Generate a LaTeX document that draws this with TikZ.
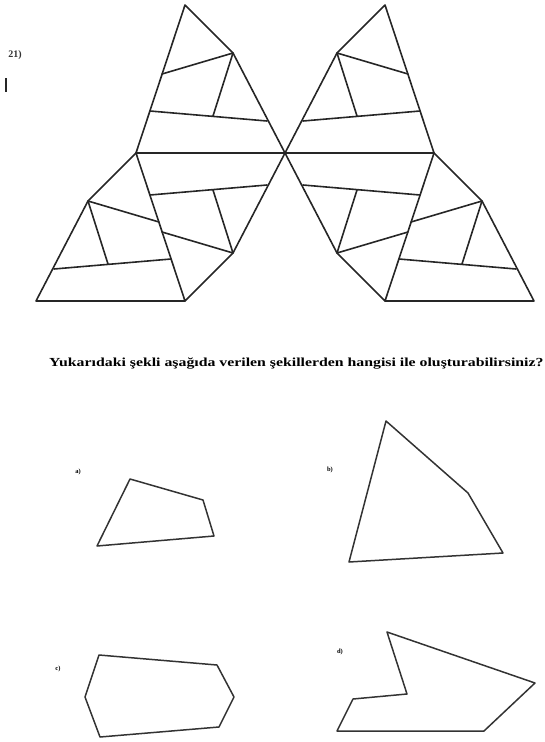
\documentclass[tikz,border=0pt]{standalone}
\usepackage{fontspec}
\setmainfont{Liberation Serif}
\begin{document}
\begin{tikzpicture}[x=1pt,y=-1pt,
  edge/.style={line width=1.6pt,line join=round,line cap=round,draw=black!85},
  opt/.style={line width=1.5pt,line join=round,draw=black!80},
  lbl/.style={font=\fontsize{6.5}{7}\selectfont\bfseries,inner sep=0pt}]
\useasboundingbox (0,0) rectangle (545,742);
\newcommand\halfpic[1]{%
  \coordinate (A#1) at (185,5);   \coordinate (B#1) at (233,53);
  \coordinate (C#1) at (285,153); \coordinate (D#1) at (136,153);
  \coordinate (P#1) at (162,74);  \coordinate (Q#1) at (213,116);
  \coordinate (R#1) at (150,111); \coordinate (S#1) at (267,121);
  \coordinate (Am#1) at (185,301); \coordinate (Bm#1) at (233,253);
  \coordinate (Pm#1) at (162,232); \coordinate (Qm#1) at (213,190);
  \coordinate (Rm#1) at (150,195); \coordinate (Sm#1) at (267,185);
  \coordinate (Bl#1) at (88,201);  \coordinate (Cl#1) at (36,301);
  \coordinate (Pl#1) at (159,222); \coordinate (Ql#1) at (108,264);
  \coordinate (Rl#1) at (171,259); \coordinate (Sl#1) at (54,269);
  % upper triangle
  \draw[edge] (A#1) -- (B#1) -- (C#1) -- (D#1) -- cycle;
  \draw[edge] (P#1) -- (B#1) -- (Q#1);
  \draw[edge] (R#1) -- (S#1);
  % middle piece
  \draw[edge] (C#1) -- (Bm#1) -- (Am#1) -- (D#1);
  \draw[edge] (Pm#1) -- (Bm#1) -- (Qm#1);
  \draw[edge] (Rm#1) -- (Sm#1);
  % lower triangle
  \draw[edge] (D#1) -- (Bl#1) -- (Cl#1) -- (Am#1);
  \draw[edge] (Pl#1) -- (Bl#1) -- (Ql#1);
  \draw[edge] (Rl#1) -- (Sl#1);
}
\halfpic{L}
\begin{scope}[xshift=570pt,xscale=-1]
\halfpic{R}
\end{scope}
% header
\node[font=\fontsize{10}{12}\selectfont\bfseries,inner sep=0pt,text=black!80] (num) at (15,55) {21)};
\coordinate (barT) at (6,78);
\coordinate (barB) at (6,92);
\draw[line width=2.6pt,black!85] (barT) -- (barB);
% question
\node[font=\fontsize{12.3}{14}\selectfont\bfseries,inner sep=0pt,anchor=west] (q) at (49,364)
  {\scalebox{1.285}[1]{Yukarıdaki şekli aşağıda verilen şekillerden hangisi ile oluşturabilirsiniz?}};
% option labels
\node[lbl] (la) at (78,472) {a)};
\node[lbl] (lb) at (330,470) {b)};
\node[lbl] (lc) at (58,669) {c)};
\node[lbl] (ld) at (340,652) {d)};
% option a
\coordinate (a1) at (130,479); \coordinate (a2) at (203,500);
\coordinate (a3) at (214,536); \coordinate (a4) at (97,546);
\draw[opt] (a1) -- (a2) -- (a3) -- (a4) -- cycle;
% option b
\coordinate (b1) at (386,421); \coordinate (b2) at (468,493);
\coordinate (b3) at (503,553); \coordinate (b4) at (349,562);
\draw[opt] (b1) -- (b2) -- (b3) -- (b4) -- cycle;
% option c
\coordinate (c1) at (99,655);  \coordinate (c2) at (217,665);
\coordinate (c3) at (234,697); \coordinate (c4) at (219,727);
\coordinate (c5) at (100,737); \coordinate (c6) at (85,697);
\draw[opt] (c1) -- (c2) -- (c3) -- (c4) -- (c5) -- (c6) -- cycle;
% option d
\coordinate (d1) at (387,632); \coordinate (d2) at (535,683);
\coordinate (d3) at (484,731); \coordinate (d4) at (337,731);
\coordinate (d5) at (353,699); \coordinate (d6) at (407,694);
\draw[opt] (d1) -- (d2) -- (d3) -- (d4) -- (d5) -- (d6) -- cycle;
\end{tikzpicture}
\end{document}
